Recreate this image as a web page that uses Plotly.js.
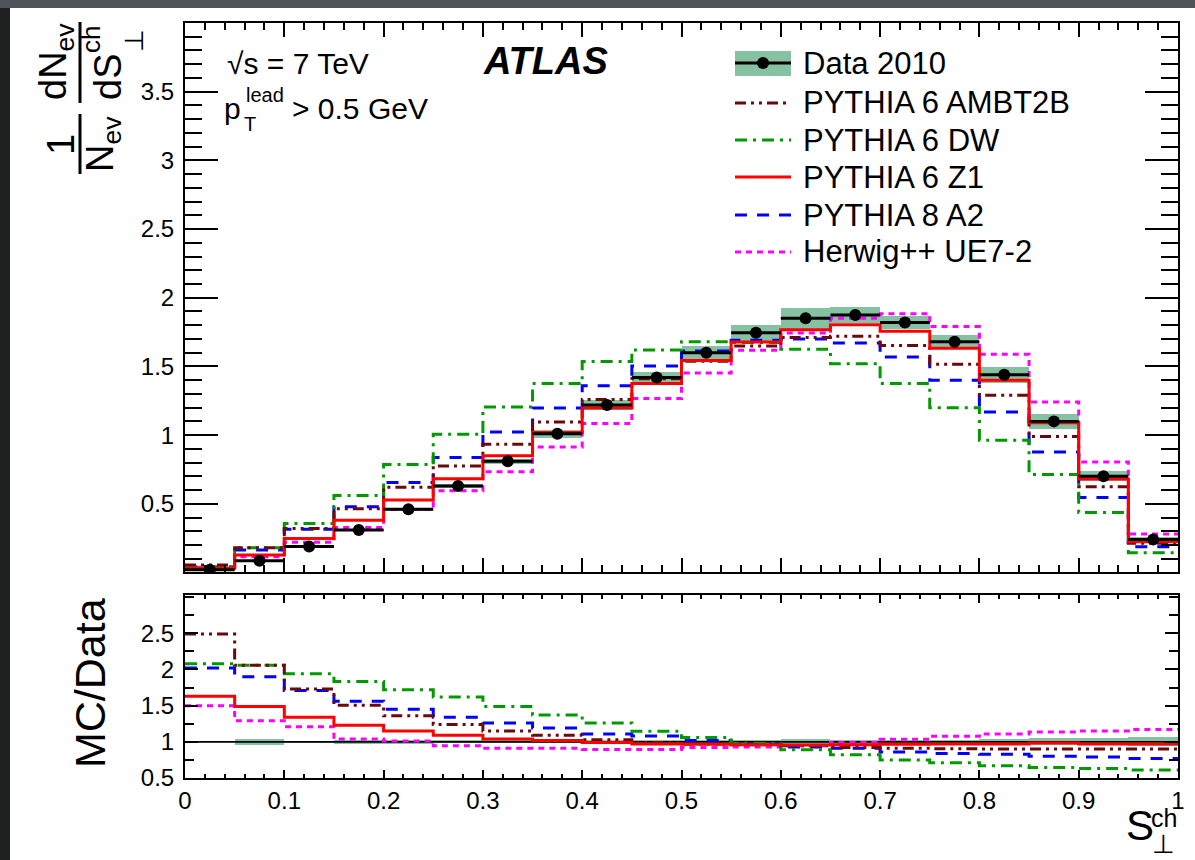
<!DOCTYPE html>
<html>
<head>
<meta charset="utf-8">
<script src="https://cdn.plot.ly/plotly-3.0.1.min.js"></script>
<style>
  html, body { margin:0; padding:0; background:#2e3134; width:1195px; height:860px; overflow:hidden; }
  body { background: linear-gradient(#4d5358 0px, #4d5358 8px, #1e1f21 8px); }
  #plot { position:absolute; left:10px; top:8px; width:1185px; height:852px; background:#fff; }
</style>
</head>
<body>
<div id="plot"></div>
<script>
// ---------------- data ----------------
const binEdges = [0,0.05,0.1,0.15,0.2,0.25,0.3,0.35,0.4,0.45,0.5,0.55,0.6,0.65,0.7,0.75,0.8,0.85,0.9,0.95,1.0];

const data2010   = [0.02,0.085,0.19,0.31,0.46,0.63,0.81,1.01,1.22,1.42,1.60,1.745,1.85,1.875,1.82,1.68,1.44,1.10,0.70,0.24];
const dataSyst   = [0.004,0.006,0.008,0.01,0.01,0.012,0.018,0.03,0.036,0.04,0.05,0.057,0.079,0.06,0.05,0.052,0.058,0.053,0.036,0.018];

const ambt2b = [0.055,0.18,0.32,0.464,0.62,0.776,0.934,1.096,1.259,1.41,1.537,1.648,1.71,1.72,1.653,1.515,1.29,0.99,0.624,0.212];
const dw     = [0.04,0.18,0.357,0.56,0.786,1.007,1.205,1.375,1.535,1.62,1.68,1.675,1.625,1.52,1.375,1.20,0.963,0.714,0.437,0.144];
const z1     = [0.03,0.127,0.248,0.38,0.527,0.682,0.849,1.019,1.198,1.375,1.544,1.677,1.767,1.804,1.757,1.632,1.40,1.09,0.68,0.224];
const a2     = [0.04,0.163,0.314,0.478,0.655,0.837,1.023,1.198,1.36,1.503,1.612,1.69,1.70,1.67,1.568,1.40,1.169,0.878,0.546,0.188];
const herwig = [0.038,0.115,0.22,0.328,0.459,0.595,0.733,0.914,1.084,1.266,1.452,1.617,1.743,1.85,1.884,1.79,1.588,1.241,0.805,0.28];

// MC/Data ratios
const ratioRef    = [1,1];
const ratioErr    = [0.008,0.045,0.012,0.025,0.025,0.02,0.02,0.02,0.025,0.025,0.03,0.03,0.04,0.03,0.03,0.03,0.04,0.05,0.05,0.06];
const ambt2bRatio = [2.49,2.06,1.73,1.505,1.36,1.24,1.15,1.09,1.03,0.99,0.97,0.96,0.945,0.92,0.91,0.905,0.90,0.90,0.90,0.90];
const dwRatio     = [2.08,2.06,1.94,1.835,1.72,1.62,1.49,1.37,1.26,1.145,1.06,0.98,0.89,0.82,0.75,0.71,0.67,0.645,0.63,0.61];
const z1Ratio     = [1.63,1.49,1.34,1.23,1.15,1.09,1.04,1.02,0.99,0.97,0.965,0.96,0.955,0.96,0.965,0.97,0.97,0.985,0.97,0.97];
const a2Ratio     = [2.02,1.90,1.71,1.56,1.45,1.34,1.26,1.19,1.11,1.08,1.02,0.97,0.93,0.91,0.86,0.84,0.83,0.80,0.79,0.77];
const herwigRatio = [1.50,1.29,1.21,1.04,1.01,0.945,0.91,0.91,0.895,0.895,0.92,0.93,0.945,0.99,1.036,1.077,1.11,1.136,1.15,1.17];

const xTickVals  = [0,0.1,0.2,0.3,0.4,0.5,0.6,0.7,0.8,0.9,1];
const xTickText  = ['0','0.1','0.2','0.3','0.4','0.5','0.6','0.7','0.8','0.9','1'];
const yTickVals  = [0.5,1,1.5,2,2.5,3,3.5];
const yTickText  = ['0.5','1','1.5','2','2.5','3','3.5'];
const y2TickVals = [0.5,1,1.5,2,2.5];
const y2TickText = ['0.5','1','1.5','2','2.5'];

// ---------------- styles ----------------
const FONT = 'Liberation Sans, Arial, Helvetica, sans-serif';
const BAND = '#86c2a2';
const styles = {
  ambt2b: {color:'#6b0a0a', width:3, dash:'11px,5px,3px,5px,3px,5px'},
  dw:     {color:'#009a00', width:3, dash:'12px,6px,3px,6px'},
  z1:     {color:'#ff0000', width:3, dash:'solid'},
  a2:     {color:'#0000ff', width:3, dash:'12px,10px'},
  herwig: {color:'#ff00ff', width:3, dash:'6px,5px'}
};

const centers = binEdges.slice(0,-1).map((e,i)=> (e+binEdges[i+1])/2);
const halfW   = binEdges.slice(0,-1).map((e,i)=> (binEdges[i+1]-e)/2);
const widths  = halfW.map(h=>2*h);

function step(vals, style, xa, ya) {
  return {type:'scatter', mode:'lines', x:binEdges, y:vals.concat([vals[vals.length-1]]),
          line:Object.assign({shape:'hv'}, style), xaxis:xa, yaxis:ya, hoverinfo:'skip'};
}

const traces = [
  // main panel
  {type:'bar', x:centers, base:data2010.map((v,i)=>v-dataSyst[i]), y:dataSyst.map(e=>2*e),
   width:widths, marker:{color:BAND, line:{width:0}}, xaxis:'x', yaxis:'y', hoverinfo:'skip'},
  step(herwig, styles.herwig, 'x','y'),
  step(a2, styles.a2, 'x','y'),
  step(dw, styles.dw, 'x','y'),
  step(ambt2b, styles.ambt2b, 'x','y'),
  step(z1, styles.z1, 'x','y'),
  {type:'scatter', mode:'markers', x:centers, y:data2010,
   error_x:{type:'data', array:halfW, visible:true, color:'#000', thickness:3, width:0},
   marker:{color:'#000', size:12, symbol:'circle'}, xaxis:'x', yaxis:'y', hoverinfo:'skip'},
  // ratio panel
  {type:'bar', x:centers, base:ratioErr.map(e=>1-e), y:ratioErr.map(e=>2*e),
   width:widths, marker:{color:BAND, line:{width:0}}, xaxis:'x2', yaxis:'y2', hoverinfo:'skip'},
  {type:'scatter', mode:'lines', x:[binEdges[0], binEdges[binEdges.length-1]], y:ratioRef,
   line:{color:'#000', width:1.6}, xaxis:'x2', yaxis:'y2', hoverinfo:'skip'},
  step(herwigRatio, styles.herwig, 'x2','y2'),
  step(a2Ratio, styles.a2, 'x2','y2'),
  step(dwRatio, styles.dw, 'x2','y2'),
  step(ambt2bRatio, styles.ambt2b, 'x2','y2'),
  step(z1Ratio, styles.z1, 'x2','y2')
];

// pixel helpers (absolute page px -> paper coords); plot area: x 185..1178, y 23..778
const PX = x => (x-185)/993;
const PY = y => (778-y)/755;

const axBase = {showline:true, linewidth:2, linecolor:'#000', mirror:'allticks', showgrid:false,
                zeroline:false, ticks:'inside', tickwidth:2, tickcolor:'#000',
                tickfont:{family:FONT, size:24, color:'#000'}};

const layout = {
  width:1185, height:852,
  margin:{l:175, r:17, t:15, b:82, pad:0},
  paper_bgcolor:'#ffffff', plot_bgcolor:'#ffffff',
  showlegend:false, barmode:'overlay', bargap:0,
  font:{family:FONT, color:'#000'},
  xaxis: Object.assign({}, axBase, {domain:[0,1], anchor:'y', range:[0,1], tickmode:'array',
          tickvals:xTickVals, showticklabels:false, ticklen:14,
          minor:{tick0:0, dtick:0.02, ticklen:7, tickwidth:2, tickcolor:'#000', ticks:'inside', showgrid:false}}),
  yaxis: Object.assign({}, axBase, {domain:[0.2722,1], anchor:'x', range:[0,4.0], tickmode:'array',
          tickvals:yTickVals, ticktext:yTickText, ticklen:33, ticklabelstandoff:4,
          minor:{tick0:0, dtick:0.1, ticklen:17, tickwidth:2, tickcolor:'#000', ticks:'inside', showgrid:false}}),
  xaxis2: Object.assign({}, axBase, {domain:[0,1], anchor:'y2', range:[0,1], tickmode:'array',
          tickvals:xTickVals, ticktext:xTickText, ticklen:8, ticklabelstandoff:0,
          minor:{tick0:0, dtick:0.02, ticklen:4, tickwidth:2, tickcolor:'#000', ticks:'inside', showgrid:false}}),
  yaxis2: Object.assign({}, axBase, {domain:[0,0.2424], anchor:'x2', range:[0.5,3.03], tickmode:'array',
          tickvals:y2TickVals, ticktext:y2TickText, ticklen:13, ticklabelstandoff:4,
          minor:{tick0:0.5, dtick:0.25, ticklen:9, tickwidth:2, tickcolor:'#000', ticks:'inside', showgrid:false}}),
  shapes: [
    // y-title fraction bars
    {type:'line', xref:'paper', yref:'paper', x0:PX(80), x1:PX(80), y0:PY(114), y1:PY(174), line:{color:'#000', width:3}},
    {type:'line', xref:'paper', yref:'paper', x0:PX(80), x1:PX(80), y0:PY(22), y1:PY(103), line:{color:'#000', width:3}}
  ],
  annotations: []
};

const ann = layout.annotations;
function txt(text, x, y, size, opts) {
  ann.push(Object.assign({xref:'paper', yref:'paper', x:PX(x), y:PY(y), text:text, showarrow:false,
    xanchor:'left', yanchor:'middle', font:{family:FONT, size:size, color:'#000'}}, opts||{}));
}

// y-axis title of main panel (rotated fraction)
txt('1', 61, 145, 38, {xanchor:'center', textangle:-90});
txt('N<sub>ev</sub>', 103, 144, 38, {xanchor:'center', textangle:-90});
txt('dN<sub>ev</sub>', 56, 62, 38, {xanchor:'center', textangle:-90});
txt('dS', 108, 77, 38, {xanchor:'center', textangle:-90});
txt('ch', 91, 40, 26, {xanchor:'center', textangle:-90});
txt('⊥', 134, 41, 26, {xanchor:'center', textangle:-90});

// ratio y title
txt('MC/Data', 90, 683, 43, {xanchor:'center', textangle:-90});

// x title S_perp^ch
txt('S', 1140, 825, 42, {xanchor:'center'});
txt('ch', 1164, 818, 25, {xanchor:'center'});
txt('⊥', 1163, 844, 26, {xanchor:'center'});

// labels in the main panel
txt('√s = 7 TeV', 225, 63, 30);
txt('p', 222, 108, 30);
txt('lead', 244, 95, 20);
txt('T', 242, 124, 20);
txt('> 0.5 GeV', 290, 108, 30);
txt('<b><i>ATLAS</i></b>', 545, 61, 38, {xanchor:'center'});

// legend (manual, ROOT style)
const legendRows = [
  {label:'Data 2010', y:63, style:null},
  {label:'PYTHIA 6 AMBT2B', y:103, style:styles.ambt2b},
  {label:'PYTHIA 6 DW', y:140, style:styles.dw},
  {label:'PYTHIA 6 Z1', y:177, style:styles.z1},
  {label:'PYTHIA 8 A2', y:215, style:styles.a2},
  {label:'Herwig++ UE7-2', y:252, style:styles.herwig}
];
legendRows.forEach(r => {
  txt(r.label, 801, r.y, 31);
  if (r.style) {
    layout.shapes.push({type:'line', xref:'paper', yref:'paper', x0:PX(735), x1:PX(791), y0:PY(r.y), y1:PY(r.y),
      line:{color:r.style.color, width:3, dash:r.style.dash}});
  } else {
    layout.shapes.push({type:'rect', xref:'paper', yref:'paper', x0:PX(735), x1:PX(791), y0:PY(r.y+13), y1:PY(r.y-12),
      fillcolor:BAND, line:{width:0}});
    layout.shapes.push({type:'line', xref:'paper', yref:'paper', x0:PX(735), x1:PX(791), y0:PY(r.y), y1:PY(r.y),
      line:{color:'#000', width:3}});
    layout.shapes.push({type:'circle', xref:'paper', yref:'paper', x0:PX(757), x1:PX(769), y0:PY(r.y+6), y1:PY(r.y-6),
      fillcolor:'#000', line:{width:0}});
  }
});

Plotly.newPlot('plot', traces, layout, {staticPlot:true, displayModeBar:false});
</script>
</body>
</html>
